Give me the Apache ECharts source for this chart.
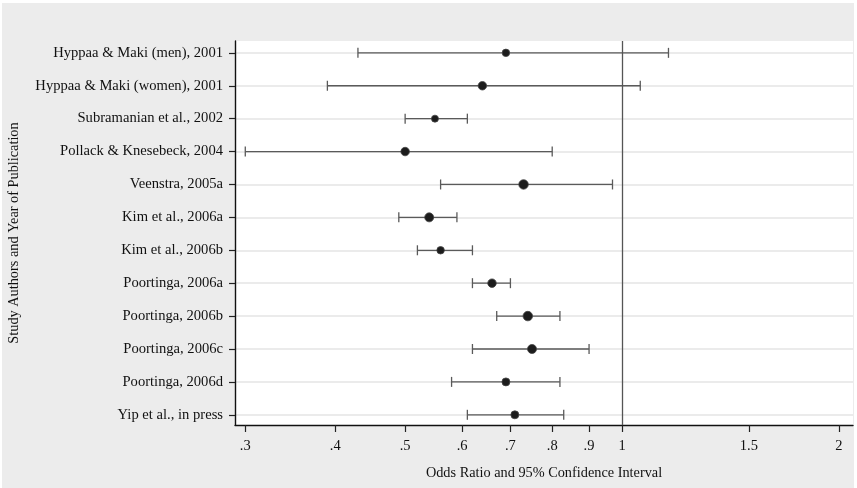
<!DOCTYPE html>
<html>
<head>
<meta charset="utf-8">
<script src="https://cdn.jsdelivr.net/npm/echarts@6/dist/echarts.min.js"></script>
<style>
  html, body { margin: 0; padding: 0; background: #ffffff; }
  #chart { width: 857px; height: 488px; }
</style>
</head>
<body>
<div id="chart"></div>
<script>
// Study labels, top to bottom
const studies = [
  'Hyppaa & Maki (men), 2001',
  'Hyppaa & Maki (women), 2001',
  'Subramanian et al., 2002',
  'Pollack & Knesebeck, 2004',
  'Veenstra, 2005a',
  'Kim et al., 2006a',
  'Kim et al., 2006b',
  'Poortinga, 2006a',
  'Poortinga, 2006b',
  'Poortinga, 2006c',
  'Poortinga, 2006d',
  'Yip et al., in press'
];
// Odds ratios and 95% confidence limits
const oddsRatios = [0.69, 0.64, 0.55, 0.50, 0.73, 0.54, 0.56, 0.66, 0.74, 0.75, 0.69, 0.71];
const lowerCI    = [0.43, 0.39, 0.50, 0.30, 0.56, 0.49, 0.52, 0.62, 0.67, 0.62, 0.58, 0.61];
const upperCI    = [1.16, 1.06, 0.61, 0.80, 0.97, 0.59, 0.62, 0.70, 0.82, 0.90, 0.82, 0.83];
// Odds-ratio axis ticks
const xTicks = [0.3, 0.4, 0.5, 0.6, 0.7, 0.8, 0.9, 1, 1.5, 2];

// marker diameters (pixels), per study
const markerDiameters = [7.5, 8.5, 7, 8.5, 9.5, 9, 7.5, 8.5, 9.5, 9, 8, 8];

const rows = studies.map((_, i) => i + 1);
const ciData = rows.map((r, i) => [lowerCI[i], upperCI[i], r]);
const pointData = rows.map((r, i) => [oddsRatios[i], r]);

const serif = '"Liberation Serif", "DejaVu Serif", serif';
const fmtTick = v => {
  const s = String(+(+v).toFixed(2));
  return s.startsWith('0.') ? s.slice(1) : s;
};

const chart = echarts.init(document.getElementById('chart'), null, { renderer: 'canvas' });

chart.setOption({
  animation: false,
  backgroundColor: '#ffffff',
  graphic: [{
    type: 'rect', z: -10, silent: true,
    shape: { x: 2, y: 3, width: 852, height: 485 },
    style: { fill: '#ececec' }
  }],
  grid: {
    left: 235, right: 4, top: 41, bottom: 63,
    outerBoundsMode: 'none',
    containLabel: false,
    show: true, backgroundColor: '#ffffff', borderWidth: 0
  },
  xAxis: {
    type: 'log',
    min: 0.2903, max: 2.092,
    name: 'Odds Ratio and 95% Confidence Interval',
    nameLocation: 'middle', nameGap: 41,
    nameTextStyle: { fontFamily: serif, fontSize: 14.3, color: '#111' },
    axisLine: { show: true, onZero: false, lineStyle: { color: '#111', width: 1.4 } },
    axisTick: { show: true, inside: false, length: 7, lineStyle: { color: '#222', width: 1.2 }, customValues: xTicks },
    axisLabel: {
      customValues: xTicks, formatter: fmtTick, margin: 14,
      fontFamily: serif, fontSize: 14.5, color: '#111'
    },
    splitLine: { show: false },
    minorTick: { show: false }
  },
  yAxis: {
    type: 'value',
    inverse: true,
    min: 0.64, max: 12.31,
    name: 'Study Authors and Year of Publication',
    nameLocation: 'middle', nameGap: 214, nameRotate: 90,
    nameTextStyle: { fontFamily: serif, fontSize: 14.3, color: '#111' },
    axisLine: { show: true, onZero: false, lineStyle: { color: '#111', width: 1.4 } },
    axisTick: { show: true, inside: false, length: 6, lineStyle: { color: '#222', width: 1.2 }, customValues: rows },
    axisLabel: {
      customValues: rows, margin: 12,
      formatter: v => studies[Math.round(v) - 1] || '',
      fontFamily: serif, fontSize: 14.6, color: '#111'
    },
    splitLine: { show: true, lineStyle: { color: '#e4e4e4', width: 1.6 } }
  },
  series: [
    {
      type: 'custom',
      name: '95% CI',
      z: 3,
      encode: { x: [0, 1], y: 2 },
      data: ciData,
      renderItem: (params, api) => {
        const y = api.value(2);
        const p0 = api.coord([api.value(0), y]);
        const p1 = api.coord([api.value(1), y]);
        const h = 5;
        const style = { stroke: '#5a5a5a', lineWidth: 1.3, fill: null };
        return {
          type: 'group',
          children: [
            { type: 'line', shape: { x1: p0[0], y1: p0[1], x2: p1[0], y2: p1[1] }, style },
            { type: 'line', shape: { x1: p0[0], y1: p0[1] - h, x2: p0[0], y2: p0[1] + h }, style },
            { type: 'line', shape: { x1: p1[0], y1: p1[1] - h, x2: p1[0], y2: p1[1] + h }, style }
          ]
        };
      },
      markLine: {
        silent: true, symbol: 'none', label: { show: false },
        lineStyle: { color: '#555', width: 1.3, type: 'solid' },
        data: [{ xAxis: 1 }]
      }
    },
    {
      type: 'scatter',
      name: 'Odds ratio',
      z: 4,
      data: pointData,
      symbol: 'circle',
      symbolSize: (val, params) => markerDiameters[params.dataIndex],
      itemStyle: { color: '#1c1c1c', borderColor: '#444', borderWidth: 0.8, opacity: 1 }
    }
  ]
});
</script>
</body>
</html>
